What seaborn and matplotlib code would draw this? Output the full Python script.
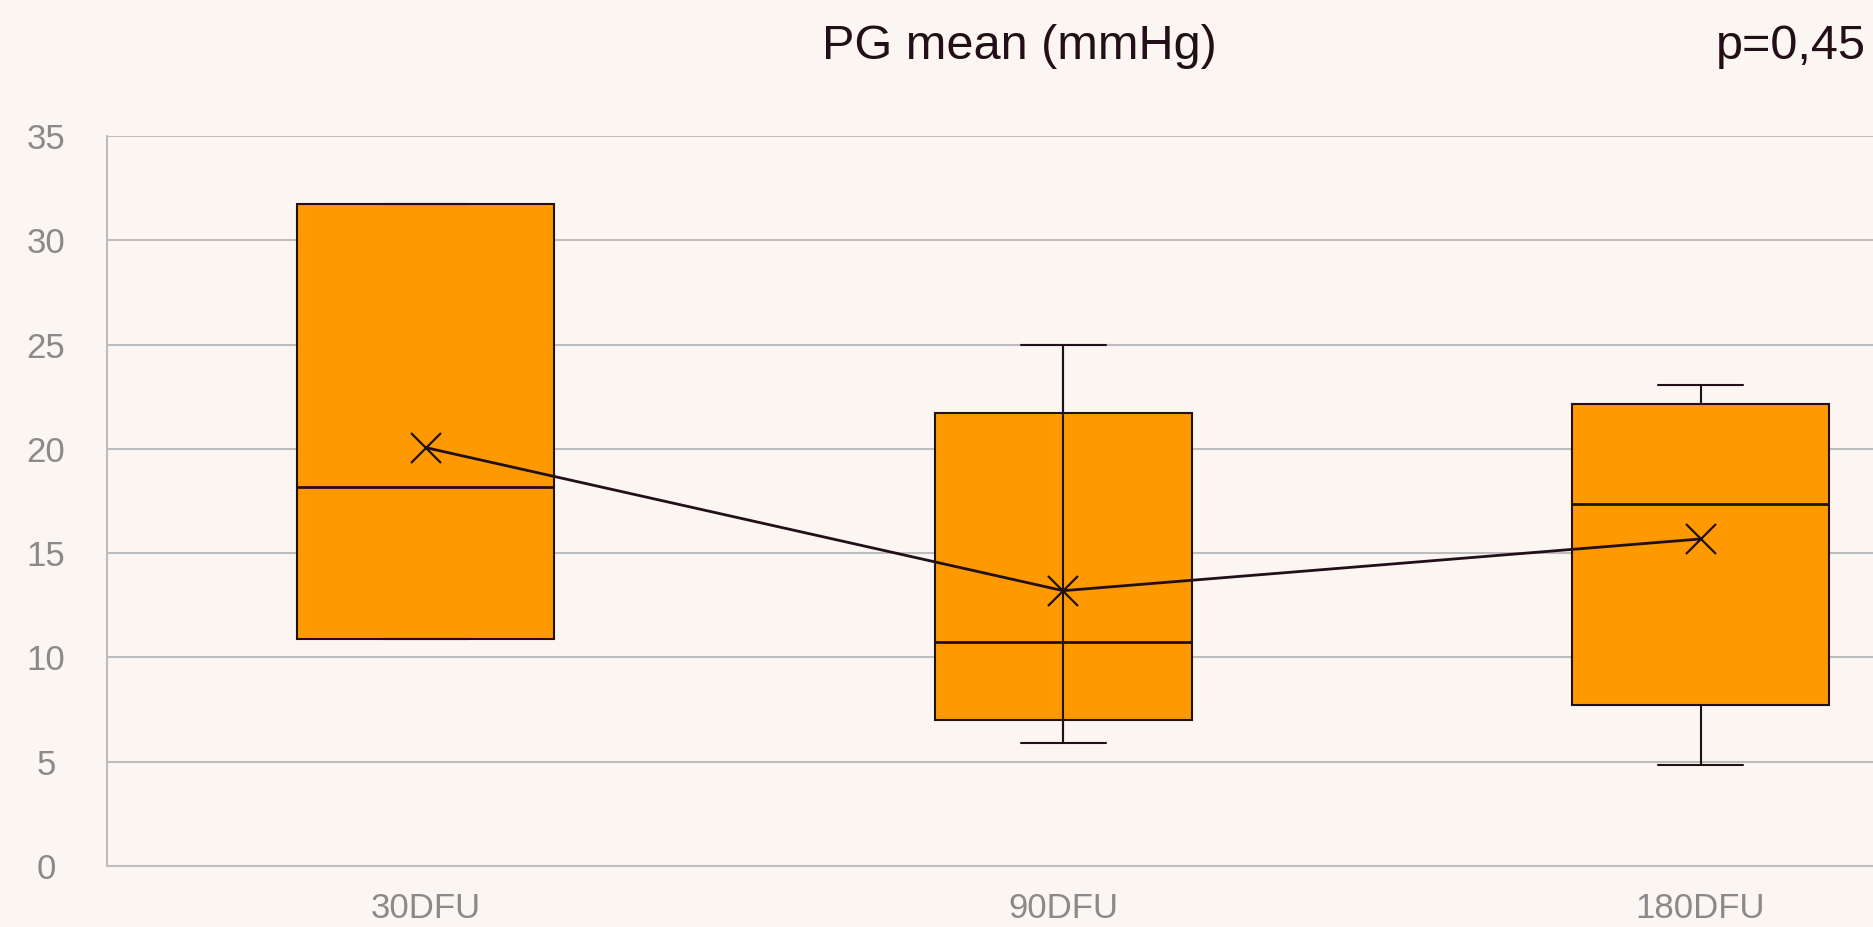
import matplotlib
matplotlib.use('Agg')
import matplotlib.pyplot as plt
import seaborn as sns
import pandas as pd

# resumen de cinco numeros por grupo (min, q1, mediana, q3, max) y medias
grupos = ['30DFU', '90DFU', '180DFU']
minimos = [10.87, 5.9, 4.84]
q1 = [10.87, 7.0, 7.72]
medianas = [18.16, 10.76, 17.36]
q3 = [31.74, 21.70, 22.15]
maximos = [31.74, 25.0, 23.08]
medias = [20.06, 13.2, 15.68]
titulo = 'PG mean (mmHg)'
p_valor = 'p=0,45'

fondo = '#FBF6F2'
naranja = '#FF9900'
oscuro = '#220F18'
gris = '#8A8A8A'

# con 5 puntos, los percentiles 25/75 de numpy caen justo en q1/q3
filas = []
for i, g in enumerate(grupos):
    for v in [minimos[i], q1[i], medianas[i], q3[i], maximos[i]]:
        filas.append({'grupo': g, 'valor': v})
df = pd.DataFrame(filas)

sns.set_style('white')
plt.rcParams['font.family'] = ['Liberation Sans', 'DejaVu Sans']

fig = plt.figure(figsize=(18.74, 9.27), dpi=100, facecolor=fondo)
ax = fig.add_axes([107 / 1874, 61 / 927, 1767 / 1874, 730 / 927])
ax.set_facecolor(fondo)

sns.boxplot(data=df, x='grupo', y='valor', order=grupos, whis=(0, 100),
            width=0.403, color=naranja, saturation=1, linecolor=oscuro,
            linewidth=1.5, fliersize=0, capwidths=0.133,
            medianprops={'linewidth': 2, 'color': oscuro}, ax=ax, zorder=3)

# linea vertical que atraviesa la caja de 90DFU
ax.vlines(grupos.index('90DFU'), minimos[1], maximos[1], color=oscuro,
          linewidth=1.5, zorder=4)

sns.pointplot(x=grupos, y=medias, color=oscuro, markers='x', markersize=22,
              markeredgewidth=1.6, linewidth=2, ax=ax, zorder=5)

ax.set_ylim(0, 35)
ax.set_yticks(range(0, 36, 5))
ax.set_xlim(-0.5, 2.272)
ax.grid(axis='y', color='#BDBDBD', linewidth=1.5, zorder=0)
ax.set_axisbelow(True)
for lado in ['top', 'right']:
    ax.spines[lado].set_visible(False)
for lado in ['left', 'bottom']:
    ax.spines[lado].set_color('#BDBDBD')
    ax.spines[lado].set_linewidth(1.5)

ax.tick_params(axis='both', length=0, labelsize=25, labelcolor=gris)
ax.tick_params(axis='y', pad=44)
for t in ax.get_yticklabels():
    t.set_horizontalalignment('center')
ax.tick_params(axis='x', pad=19)
ax.set_xlabel('')
ax.set_ylabel('')

fig.text(1019 / 1874, 1 - 59 / 927, titulo, ha='center', va='baseline',
         fontsize=35, color=oscuro)
fig.text(1866 / 1874, 1 - 59 / 927, p_valor, ha='right', va='baseline',
         fontsize=35, color=oscuro)

plt.savefig('out.png', dpi=100, facecolor=fondo)
